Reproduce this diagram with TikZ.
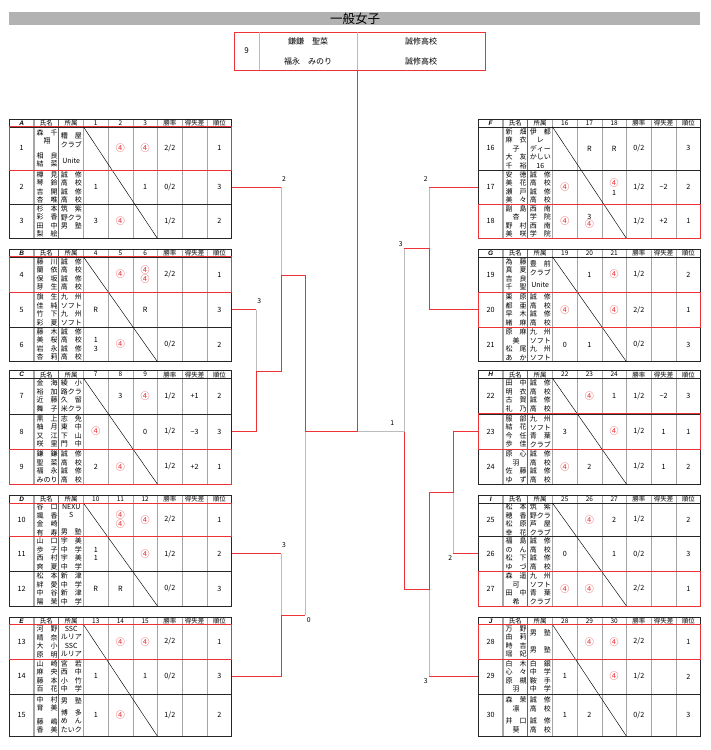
\documentclass[tikz,border=0pt]{standalone}
\usepackage{fontspec}
\setmainfont{Noto Sans CJK JP}
\newfontfamily\lsans{Liberation Sans}
\definecolor{rl}{RGB}{236,50,54}
\definecolor{gl}{RGB}{188,188,188}
\definecolor{gridc}{RGB}{165,165,165}
\definecolor{barc}{RGB}{178,178,178}
\newlength\cw \setlength\cw{21pt}
\newcommand\Sx[2]{\makebox[\cw][s]{#1\hfill#2}}
\newcommand\Tx[3]{\makebox[\cw][s]{#1\hfill#2\hfill#3}}
\newcommand\Cx[1]{\makebox[\cw][c]{#1}}
\newcommand\ci{\textcolor{rl}{\fontsize{9}{8}\selectfont ④}}
\newcommand\seishu{\Sx{誠}{修}\\\Sx{高}{校}\\\Sx{誠}{修}\\\Sx{高}{校}}
\newcommand\kyushu{\Sx{九}{州}\\\Tx{ソ}{フ}{ト}\\\Sx{九}{州}\\\Tx{ソ}{フ}{ト}}
\newcommand\kyuao{\Sx{九}{州}\\\Tx{ソ}{フ}{ト}\\\Sx{青}{葉}\\\Tx{ク}{ラ}{ブ}}
% table frame: x0, ytop, r1, r2, r3, letter, first number, winner row
\newcommand\gtab[8]{%
 \pgfmathsetmacro\gx{#1}%
 \pgfmathsetmacro\gya{#2}%
 \pgfmathsetmacro\gyb{#2+7.5}%
 \pgfmathsetmacro\gyc{\gyb+#3}%
 \pgfmathsetmacro\gyd{\gyc+#4}%
 \pgfmathsetmacro\gye{\gyd+#5}%
 \pgfmathsetmacro\gxz{#1+222.3}%
 \def\gnf{#7}%
 \foreach \k in {3,...,8} {\draw[gridc, line width=0.5pt] ({\gx+24.7*\k},\gya) -- ({\gx+24.7*\k},\gye);}
 \draw[gray!70, line width=1.6pt] ({\gx+24.7},\gya) -- ({\gx+24.7},\gye);
 \draw[gray!80!black, line width=0.6pt] ({\gx+49.4},\gya) -- ({\gx+49.4},\gye);
 \draw[black!85, line width=0.6pt] (\gx,\gyb) -- (\gxz,\gyb) (\gx,\gyc) -- (\gxz,\gyc) (\gx,\gyd) -- (\gxz,\gyd);
 \draw[black!85, line width=0.9pt] (\gx,\gya) rectangle (\gxz,\gye);
 \draw[line width=0.45pt] ({\gx+74.1},\gyb) -- ({\gx+148.2},\gye);
 \pgfmathsetmacro\gyh{\gya+3.9}%
 \pgfmathtruncatemacro\gnb{#7+1}%
 \pgfmathtruncatemacro\gnc{#7+2}%
 \node[hd] (h#6) at ({\gx+12.35},\gyh) {\lsans\bfseries\itshape #6};
 \node[hd] (h#6n) at ({\gx+37.05},\gyh) {氏名};
 \node[hd] (h#6a) at ({\gx+61.75},\gyh) {所属};
 \node[hd] (h#6p) at ({\gx+86.45},\gyh) {#7};
 \node[hd] (h#6q) at ({\gx+111.15},\gyh) {\gnb};
 \node[hd] (h#6r) at ({\gx+135.85},\gyh) {\gnc};
 \node[hd] (h#6s) at ({\gx+160.55},\gyh) {勝率};
 \node[hd] (h#6t) at ({\gx+185.25},\gyh) {得失差};
 \node[hd] (h#6u) at ({\gx+209.95},\gyh) {順位};
 \ifcase#8\or
  \draw[rl, line width=0.9pt] (\gx,\gyb) rectangle (\gxz,\gyc);\or
  \draw[rl, line width=0.9pt] (\gx,\gyc) rectangle (\gxz,\gyd);\or
  \draw[rl, line width=0.9pt] (\gx,\gyd) rectangle (\gxz,\gye);\fi
 \pgfmathsetmacro\gym{(\gyc+\gyd)/2}%
 \coordinate (#6R) at (\gxz,\gym);
 \coordinate (#6L) at (\gx,\gym);
}
% row: index, names, affiliation, s1, s2, s3, rate, diff, rank
\newcommand\trow[9]{%
 \ifcase#1\or\let\ryt\gyb\let\ryu\gyc\or\let\ryt\gyc\let\ryu\gyd\or\let\ryt\gyd\let\ryu\gye\fi
 \pgfmathsetmacro\rym{(\ryt+\ryu)/2}%
 \pgfmathtruncatemacro\rnum{\gnf+#1-1}%
 \node[sc] (no\rnum) at ({\gx+12.35},\rym) {\rnum};
 \node[cellt] (nm\rnum) at ({\gx+37.85},\rym) {#2};
 \node[cellt] (af\rnum) at ({\gx+61.95},\rym) {#3};
 \node[sc] (sa\rnum) at ({\gx+86.45},\rym) {#4};
 \node[sc] (sb\rnum) at ({\gx+111.15},\rym) {#5};
 \node[sc] (sd\rnum) at ({\gx+135.85},\rym) {#6};
 \node[sc] (wr\rnum) at ({\gx+160.55},\rym) {#7};
 \node[sc] (df\rnum) at ({\gx+185.25},\rym) {#8};
 \node[sc] (rk\rnum) at ({\gx+209.95},\rym) {#9};
}
\begin{document}
\begin{tikzpicture}[x=1pt,y=-1pt,
  cellt/.style={inner sep=0pt, align=center, font=\fontsize{7}{8.5}\selectfont},
  sc/.style={inner sep=0pt, align=center, font=\fontsize{7.2}{8.5}\selectfont},
  hd/.style={inner sep=0pt, font=\fontsize{6.5}{6.5}\selectfont},
  lbl/.style={inner sep=0pt, font=\fontsize{6.8}{6.8}\selectfont},
  ft/.style={inner sep=0pt, font=\fontsize{8}{8}\selectfont},
  rline/.style={draw=rl, line width=0.9pt},
  gline/.style={draw=gl, line width=0.9pt}]
\fill[white] (0,0) rectangle (710,750);
\useasboundingbox (0,0) rectangle (710,750);
% title
\fill[barc] (9,12.3) rectangle (700,25);
\node[inner sep=0pt, font=\fontsize{12.5}{12.5}\selectfont] (title) at (355,18.7) {一般女子};
% final box
\node[draw=rl, line width=1pt, minimum width=251pt, minimum height=38.6pt, inner sep=0pt, anchor=north west] (final) at (233.5,31.7) {};
\draw[gl, line width=0.6pt] (259.6,31.7) -- (259.6,70.3) (357,31.7) -- (357,70.3);
\node[ft] (f9) at (246.5,51) {9};
\node[ft] (fn1) at (308,41.7) {鎌鎌　聖菜};
\node[ft] (fn2) at (308,61) {福永　みのり};
\node[ft] (fs1) at (421,41.7) {誠修高校};
\node[ft] (fs2) at (421,61) {誠修高校};
% ---------- A
\gtab{9.3}{119.3}{43.2}{34.2}{34.3}{A}{1}{1}
\trow{1}{\Sx{森}{千}\\\Cx{翔}\\[6pt]\Sx{相}{良}\\\Sx{結}{菜}}{\Sx{糟}{屋}\\\Tx{ク}{ラ}{ブ}\\[8pt]\Cx{Unite}}{}{\ci}{\ci}{2/2}{}{1}
\trow{2}{\Sx{樽}{見}\\\Sx{琴}{鈴}\\\Sx{吉}{開}\\\Sx{杏}{唯}}{\seishu}{1}{}{1}{0/2}{}{3}
\trow{3}{\Sx{杉}{本}\\\Sx{彩}{香}\\\Sx{田}{中}\\\Sx{梨}{絵}}{\Sx{筑}{紫}\\\Tx{野}{ク}{ラ}\\\Sx{男}{塾}\\\Cx{}}{3}{\ci}{}{1/2}{}{2}
% ---------- B
\gtab{9.3}{249.3}{35.5}{35}{34.5}{B}{4}{1}
\trow{1}{\Sx{藤}{川}\\\Sx{蘭}{依}\\\Sx{保}{坂}\\\Sx{芽}{生}}{\seishu}{}{\ci}{\ci\\\ci}{2/2}{}{1}
\trow{2}{\Sx{旗}{生}\\\Sx{佳}{純}\\\Sx{竹}{下}\\\Sx{彩}{夏}}{\kyushu}{R}{}{R}{}{}{3}
\trow{3}{\Sx{藤}{木}\\\Sx{美}{桜}\\\Sx{岩}{永}\\\Sx{杏}{莉}}{\seishu}{1\\3}{\ci}{}{0/2}{}{2}
% ---------- C
\gtab{9.3}{370.7}{35.7}{35.3}{35}{C}{7}{3}
\trow{1}{\Sx{金}{海}\\\Sx{裕}{加}\\\Sx{近}{藤}\\\Sx{舞}{子}}{\Sx{綾}{小}\\\Tx{路}{ク}{ラ}\\\Sx{久}{留}\\\Tx{米}{ク}{ラ}}{}{3}{\ci}{1/2}{+1}{2}
\trow{2}{\Sx{黒}{上}\\\Sx{柚}{月}\\\Sx{又}{江}\\\Sx{咲}{里}}{\Sx{志}{免}\\\Sx{東}{中}\\\Sx{下}{山}\\\Sx{門}{中}}{\ci}{}{0}{1/2}{−3}{3}
\trow{3}{\Sx{鎌}{鎌}\\\Sx{聖}{菜}\\\Sx{福}{永}\\\Tx{み}{の}{り}}{\seishu}{2}{\ci}{}{1/2}{+2}{1}
% ---------- D
\gtab{9.3}{495.5}{33.3}{35}{34.7}{D}{10}{1}
\trow{1}{\Sx{谷}{口}\\\Sx{颯}{香}\\\Sx{金}{崎}\\\Sx{有}{寿}}{\Cx{NEXU}\\\Cx{S}\\\Cx{}\\\Sx{男}{塾}}{}{\ci\\\ci}{\ci}{2/2}{}{1}
\trow{2}{\Sx{山}{口}\\\Sx{歩}{子}\\\Sx{西}{村}\\\Sx{爽}{夏}}{\Sx{宇}{美}\\\Sx{中}{学}\\\Sx{宇}{美}\\\Sx{中}{学}}{1\\1}{}{\ci}{1/2}{}{2}
\trow{3}{\Sx{松}{本}\\\Sx{絆}{愛}\\\Sx{中}{谷}\\\Sx{陽}{茉}}{\Sx{新}{津}\\\Sx{中}{学}\\\Sx{新}{津}\\\Sx{中}{学}}{R}{R}{}{0/2}{}{3}
% ---------- E
\gtab{9.3}{617}{34.5}{34.8}{42.5}{E}{13}{1}
\trow{1}{\Sx{河}{野}\\\Sx{晴}{奈}\\\Sx{大}{小}\\\Sx{原}{明}}{\Cx{SSC}\\\Tx{ル}{リ}{ア}\\\Cx{SSC}\\\Tx{ル}{リ}{ア}}{}{\ci}{\ci}{2/2}{}{1}
\trow{2}{\Sx{山}{崎}\\\Sx{麻}{央}\\\Sx{藤}{本}\\\Sx{百}{花}}{\Sx{宮}{若}\\\Sx{西}{中}\\\Sx{小}{竹}\\\Sx{中}{学}}{1}{}{1}{0/2}{}{3}
\trow{3}{\Sx{中}{村}\\\Sx{育}{美}\\[5pt]\Sx{藤}{嶋}\\\Sx{香}{美}}{\Sx{男}{塾}\\[3pt]\Sx{博}{多}\\\Sx{め}{ん}\\\Tx{た}{い}{ク}}{1}{\ci}{}{1/2}{}{2}
% ---------- F
\gtab{478.3}{119.3}{43.2}{34.2}{34.3}{F}{16}{3}
\trow{1}{\Sx{新}{畑}\\\Sx{麻}{衣}\\\Cx{子}\\\Sx{大}{友}\\\Sx{千}{裕}}{\Sx{伊}{都}\\\Cx{レ}\\\Tx{デ}{ィ}{ー}\\\Tx{か}{し}{い}\\\Cx{16}}{}{R}{R}{0/2}{}{3}
\trow{2}{\Sx{安}{徳}\\\Sx{美}{花}\\\Sx{瀬}{戸}\\\Sx{美}{々}}{\seishu}{\ci}{}{\ci\\1}{1/2}{−2}{2}
\trow{3}{\Sx{副}{島}\\\Cx{杏}\\\Sx{野}{村}\\\Sx{美}{咲}}{\Sx{西}{南}\\\Sx{学}{院}\\\Sx{西}{南}\\\Sx{学}{院}}{\ci}{3\\\ci}{}{1/2}{+2}{1}
% ---------- G
\gtab{478.3}{249.3}{35.5}{35}{34.5}{G}{19}{2}
\trow{1}{\Sx{為}{藤}\\\Sx{真}{夏}\\\Sx{吉}{良}\\\Sx{千}{聖}}{\Sx{豊}{前}\\\Tx{ク}{ラ}{ブ}\\[4pt]\Cx{Unite}}{}{1}{\ci}{1/2}{}{2}
\trow{2}{\Sx{栗}{原}\\\Sx{都}{亜}\\\Sx{早}{木}\\\Sx{緒}{麻}}{\seishu}{\ci}{}{\ci}{2/2}{}{1}
\trow{3}{\Sx{原}{麻}\\\Cx{美}\\\Sx{松}{尾}\\\Sx{あ}{か}}{\kyushu}{0}{1}{}{0/2}{}{3}
% ---------- H
\gtab{478.3}{370.7}{35.7}{35.3}{35}{H}{22}{2}
\trow{1}{\Sx{田}{中}\\\Sx{明}{衣}\\\Sx{古}{賀}\\\Sx{礼}{乃}}{\seishu}{}{\ci}{1}{1/2}{−2}{3}
\trow{2}{\Sx{服}{部}\\\Sx{結}{花}\\\Sx{今}{任}\\\Sx{歩}{佳}}{\kyuao}{3}{}{\ci}{1/2}{1}{1}
\trow{3}{\Sx{原}{心}\\\Cx{羽}\\\Sx{佐}{藤}\\\Sx{ゆ}{ず}}{\seishu}{\ci}{2}{}{1/2}{1}{2}
% ---------- I
\gtab{478.3}{495.5}{33.3}{35}{34.7}{I}{25}{3}
\trow{1}{\Sx{松}{本}\\\Sx{穂}{香}\\\Sx{松}{原}\\\Sx{幸}{花}}{\Sx{筑}{紫}\\\Tx{野}{ク}{ラ}\\\Sx{芦}{屋}\\\Tx{ク}{ラ}{ブ}}{}{\ci}{2}{1/2}{}{2}
\trow{2}{\Sx{福}{島}\\\Sx{の}{ん}\\\Sx{松}{下}\\\Sx{ゆ}{づ}}{\seishu}{0}{}{1}{0/2}{}{3}
\trow{3}{\Sx{森}{遥}\\\Cx{可}\\\Sx{田}{中}\\\Cx{希}}{\kyuao}{\ci}{\ci}{}{2/2}{}{1}
% ---------- J
\gtab{478.3}{617}{34.5}{34.8}{42.5}{J}{28}{1}
\trow{1}{\Sx{万}{野}\\\Sx{由}{莉}\\\Sx{時}{吉}\\\Sx{瑶}{妃}}{\Sx{男}{塾}\\\Cx{}\\\Sx{男}{塾}}{}{\ci}{\ci}{2/2}{}{1}
\trow{2}{\Sx{白}{木}\\\Sx{心}{々}\\\Sx{原}{槻}\\\Cx{羽}}{\Sx{白}{銀}\\\Sx{中}{学}\\\Sx{鞍}{手}\\\Sx{中}{学}}{1}{}{\ci}{1/2}{}{2}
\trow{3}{\Sx{森}{茉}\\\Cx{凛}\\[4pt]\Sx{井}{口}\\\Cx{葵}}{\Sx{誠}{修}\\\Sx{高}{校}\\[4pt]\Sx{誠}{修}\\\Sx{高}{校}}{1}{2}{}{0/2}{}{3}
% ---------- bracket junctions
\coordinate (mBC) at (256,371);
\coordinate (mABC) at (281,275);
\coordinate (sL) at (305,431.55);
\coordinate (mDE) at (281,615);
\coordinate (mDE2) at (305,615);
\coordinate (finb) at (357,70.3);
\coordinate (fj) at (357,431.55);
\coordinate (sR) at (404,431.55);
\coordinate (cS) at (404,248);
\coordinate (mFG) at (429,248);
\coordinate (mHI) at (453,492);
\coordinate (mHJ) at (429,589);
\coordinate (cA) at (AR -| mABC);
\coordinate (cB) at (BR -| mBC);
\coordinate (cD) at (DR -| mDE);
\coordinate (cF) at (FL -| mFG);
\coordinate (cI) at (IL -| mHI);
\coordinate (cJ) at (JL -| mHJ);
% gray (lost) segments
\draw[gline] (cA) -- (mABC);
\draw[gline] (cB) -- (mBC);
\draw[gline] (sL) -- (mDE2);
\draw[gline] (cD) -- (mDE);
\draw[gline] (fj) -- (sR);
\draw[gline] (cF) -- (mFG);
\draw[gline] (cS) -- (sR);
\draw[gline] (cI) -- (mHI);
\draw[gline] (cJ) -- (mHJ);
% red (won) segments
\draw[rline] (AR) -- (cA);
\draw[rline] (BR) -- (cB);
\draw[rline] (CR) -| (mBC) -| (mABC) -| (sL) -| (finb);
\draw[rline] (DR) -- (cD);
\draw[rline] (ER) -| (mDE) -- (mDE2);
\draw[rline] (FL) -- (cF);
\draw[rline] (GL) -| (mFG) -- (cS);
\draw[rline] (HL) -| (mHI) -| (mHJ) -| (sR);
\draw[rline] (IL) -- (cI);
\draw[rline] (JL) -- (cJ);
% score labels
\node[lbl] (l1) at (284,179) {2};
\node[lbl] (l2) at (259.3,301) {3};
\node[lbl] (l3) at (284,545) {3};
\node[lbl] (l4) at (308.7,620) {0};
\node[lbl] (l5) at (392.3,423.3) {1};
\node[lbl] (l6) at (400.7,244.3) {3};
\node[lbl] (l7) at (425.7,179) {2};
\node[lbl] (l8) at (450.3,558.3) {2};
\node[lbl] (l9) at (425.7,681) {3};
\end{tikzpicture}
\end{document}
